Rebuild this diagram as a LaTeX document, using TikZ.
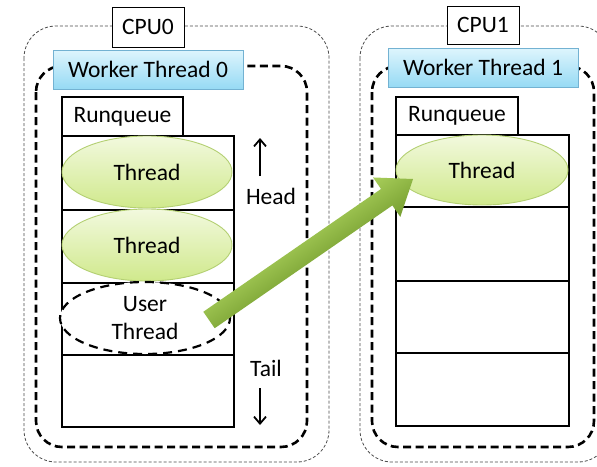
\documentclass[tikz,border=0pt]{standalone}
\usepackage{fontspec}
\setmainfont{Carlito}
\usetikzlibrary{arrows.meta,shapes.geometric,calc}
\definecolor{wtop}{RGB}{222,245,253}
\definecolor{wbot}{RGB}{150,218,244}
\definecolor{wborder}{RGB}{115,178,210}
\definecolor{etop}{RGB}{242,249,222}
\definecolor{ebot}{RGB}{208,233,140}
\definecolor{eborder}{RGB}{180,208,115}
\definecolor{gtop}{RGB}{168,206,90}
\definecolor{gbot}{RGB}{118,158,48}
\begin{document}
\begin{tikzpicture}[x=1pt,y=-1pt,
  font=\fontsize{23.5}{28}\selectfont,
  outerbox/.style={draw=black!70, line width=0.8pt, dash pattern=on 3pt off 2pt, rounded corners=32pt},
  innerbox/.style={draw=black, line width=2.6pt, dash pattern=on 8pt off 4.5pt, rounded corners=26pt},
  cpulabel/.style={draw=black, line width=0.9pt, fill=white, inner sep=0pt},
  worker/.style={draw=wborder, line width=0.9pt, top color=wtop, bottom color=wbot, inner sep=0pt},
  tab/.style={draw=black, line width=2.6pt, fill=white, inner sep=0pt},
  cell/.style={draw=black, line width=2.6pt, fill=white},
  thr/.style={ellipse, draw=eborder, line width=0.9pt, top color=etop, bottom color=ebot, inner sep=0pt},
  uthr/.style={ellipse, draw=black, line width=2.2pt, dash pattern=on 9pt off 6pt, fill=white, inner sep=0pt, align=center},
  dirarrow/.style={line width=1.8pt, -{Straight Barb[length=7pt,width=12pt]}}
]
\useasboundingbox (0,0) rectangle (597,466);
\clip (0,0) rectangle (597,466);
\fill[white] (0,0) rectangle (597,466);

% CPU containers
\draw[outerbox] (24,26) rectangle (329,462);
\draw[outerbox] (360,26) rectangle (610,462);
\draw[innerbox] (36,66) rectangle (307,447);
\draw[innerbox] (372,66) rectangle (594,447);

\node[cpulabel, minimum width=72pt, minimum height=40pt] (cpu0) at (148,27) {CPU0};
\node[cpulabel, minimum width=72pt, minimum height=38pt] (cpu1) at (483,25) {CPU1};

\node[worker, minimum width=190pt, minimum height=39pt] (w0) at (148,69.5) {Worker Thread 0\hspace{6pt}};
\node[worker, minimum width=190pt, minimum height=39pt] (w1) at (483,67.5) {Worker Thread 1};

% Runqueue 0
\node[tab, minimum width=121pt, minimum height=39pt] (rq0) at (122.5,116.5) {Runqueue};
\node[cell, minimum width=172pt, minimum height=74pt] (l1) at (148,173) {};
\node[cell, minimum width=172pt, minimum height=73pt] (l2) at (148,246.5) {};
\node[cell, minimum width=172pt, minimum height=72pt] (l3) at (148,319) {};
\node[cell, minimum width=172pt, minimum height=72pt] (l4) at (148,391) {};

% Runqueue 1
\node[tab, minimum width=122pt, minimum height=38pt] (rq1) at (457,116) {Runqueue};
\node[cell, minimum width=173pt, minimum height=72pt] (r1) at (482.5,171) {};
\node[cell, minimum width=173pt, minimum height=74pt] (r2) at (482.5,244) {};
\node[cell, minimum width=173pt, minimum height=72pt] (r3) at (482.5,317) {};
\node[cell, minimum width=173pt, minimum height=73pt] (r4) at (482.5,389.5) {};

% Threads
\node[thr, minimum width=170pt, minimum height=72pt] (t1) at (147,172) {Thread};
\node[thr, minimum width=170pt, minimum height=72pt] (t2) at (147,245) {Thread};
\node[uthr, minimum width=170pt, minimum height=72pt] (ut) at (145,318) {User\\Thread};
\node[thr, minimum width=172pt, minimum height=70pt] (t3) at (482,170) {Thread};

% Head / Tail
\node (head) at (271,196) {Head};
\node (tail) at (266,368) {Tail};
\coordinate (hs) at (260,176);
\coordinate (he) at (260,138);
\coordinate (ts) at (260,388);
\coordinate (te) at (260,425);
\draw[dirarrow] (hs) -- (he);
\draw[dirarrow] (ts) -- (te);

% migration arrow
\coordinate (as) at (209,320);
\coordinate (ae) at (413,179);
\begin{scope}[transform canvas={shift={(as)}, rotate=34.65}]
  \shade[top color=gtop, bottom color=gbot]
    (0,10) -- (216,10) -- (216,24) -- (248,0) -- (216,-24) -- (216,-10) -- (0,-10) -- cycle;
\end{scope}
\end{tikzpicture}
\end{document}
